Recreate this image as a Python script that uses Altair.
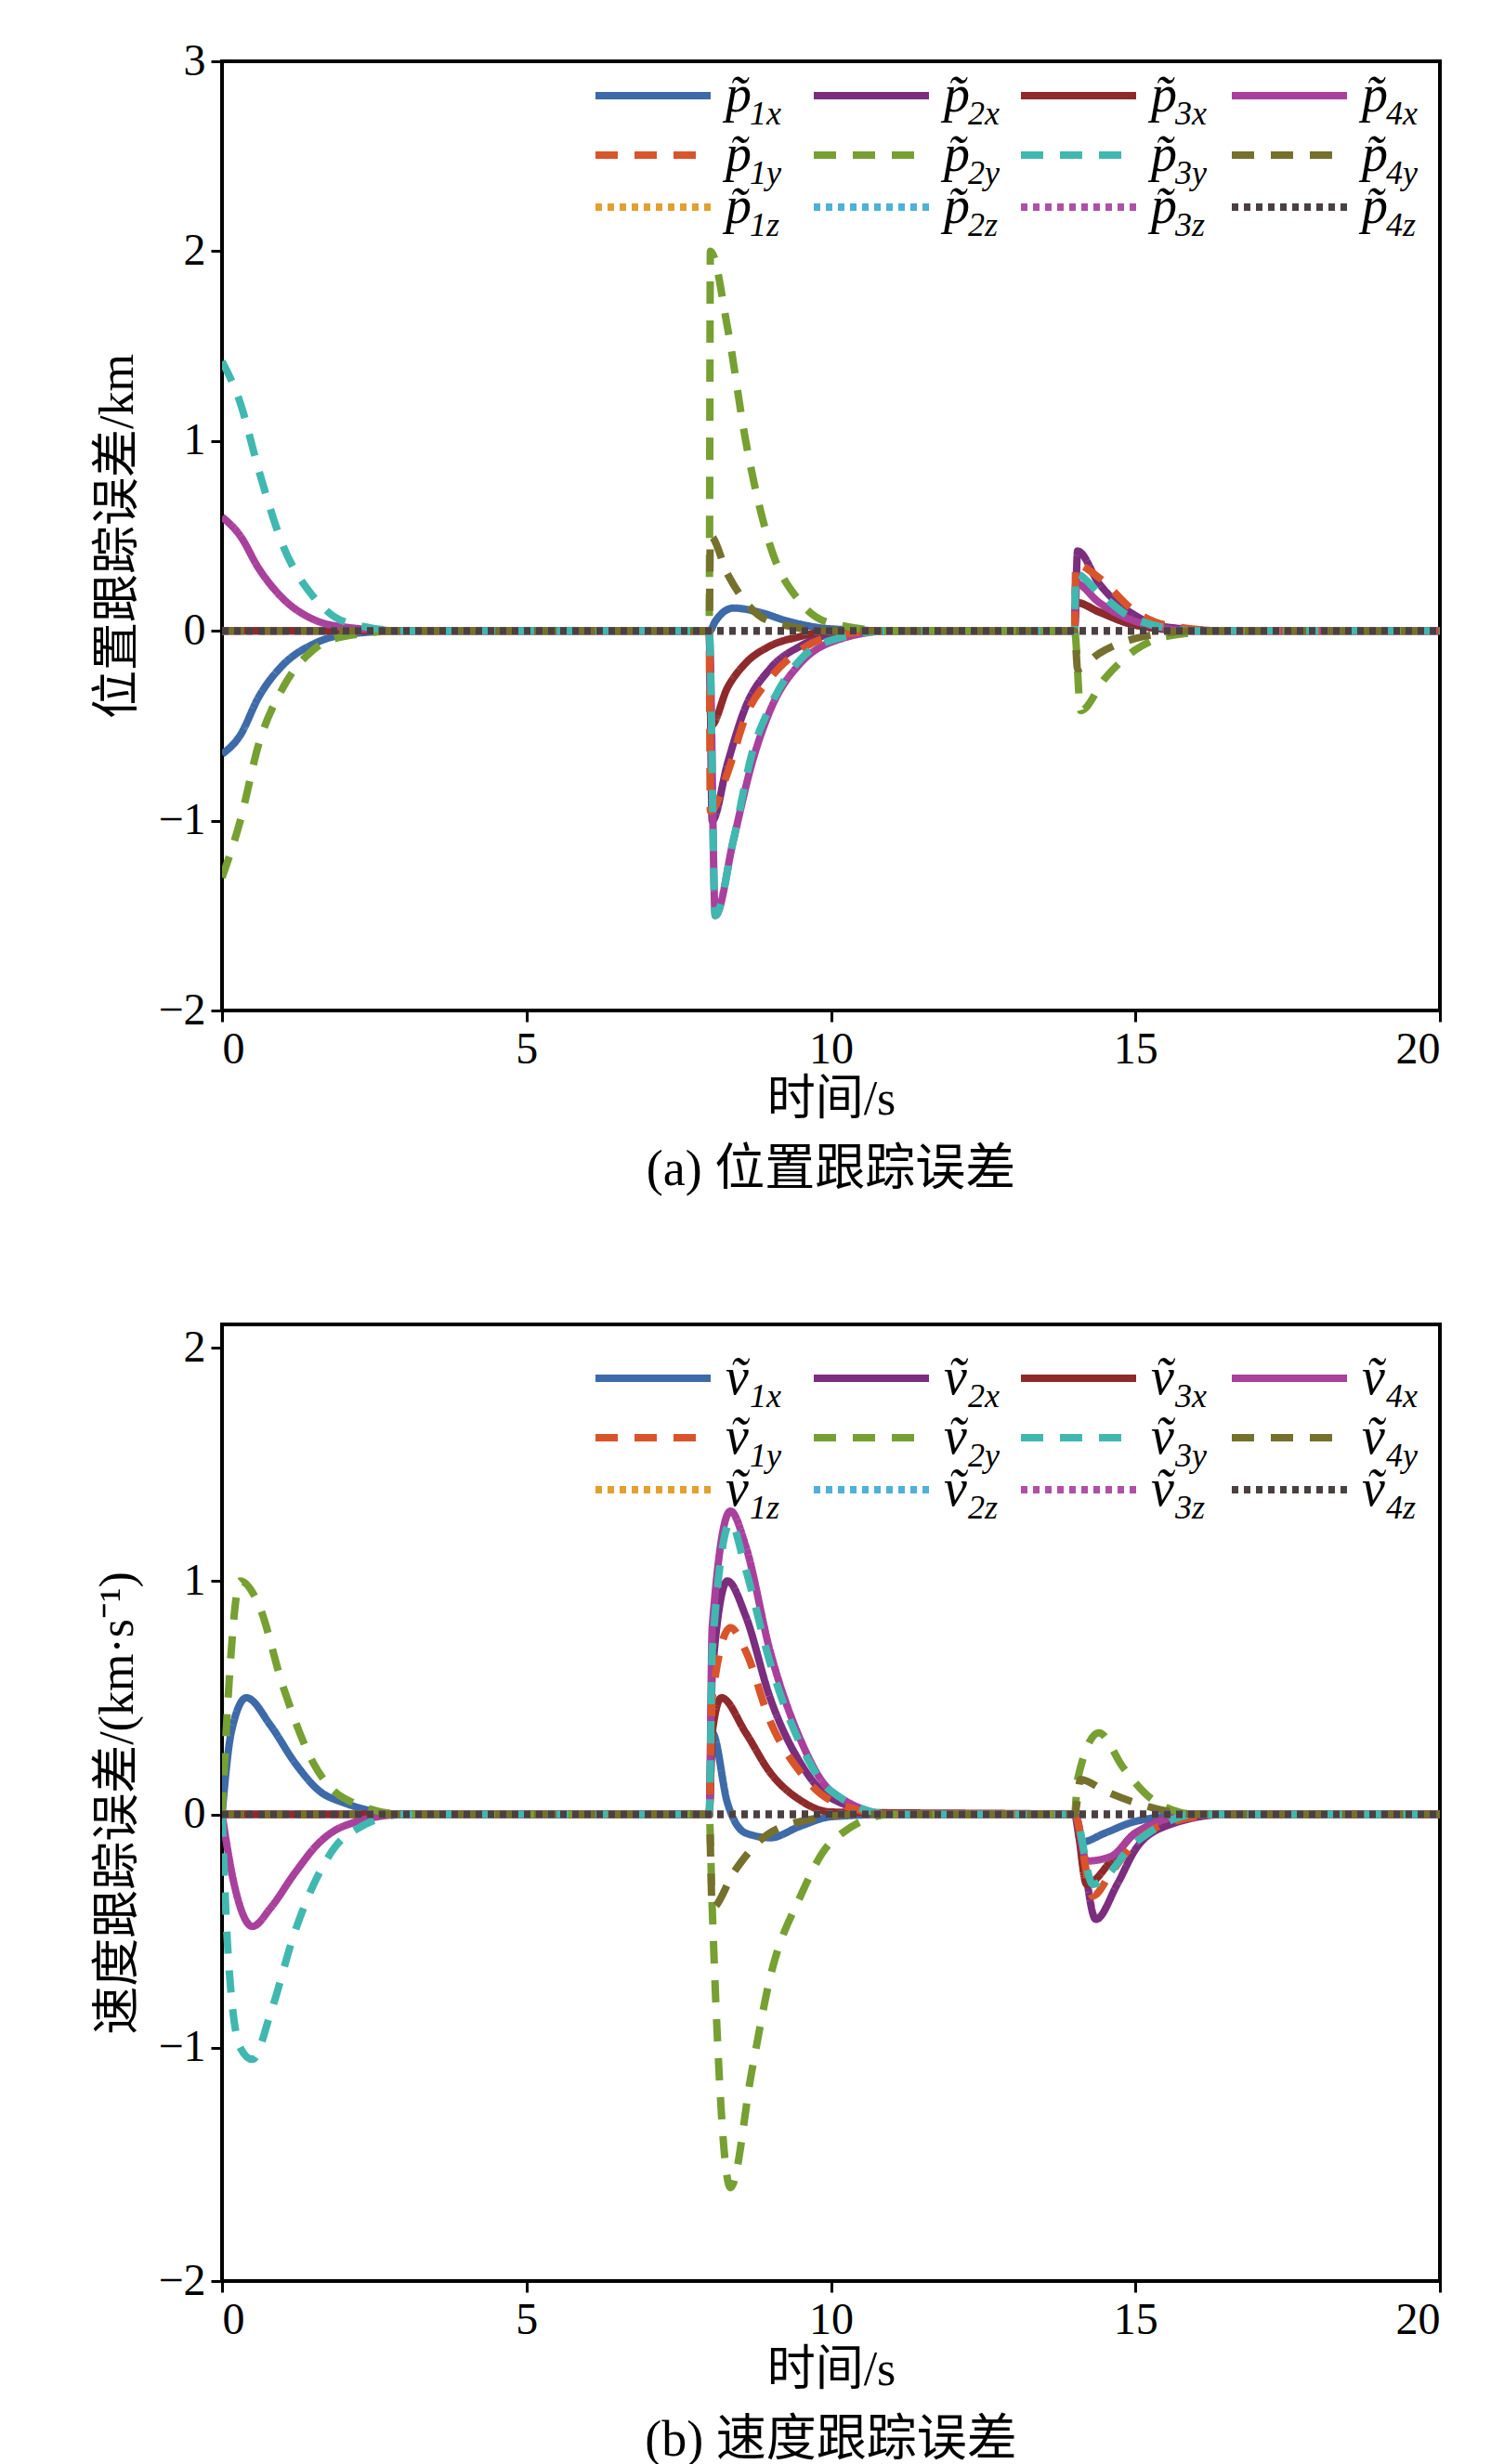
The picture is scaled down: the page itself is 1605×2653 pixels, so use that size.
import pandas as pd
import altair as alt

FONT = "Liberation Serif, Noto Sans CJK SC"

colors = {
    "1x": "#3d6aa8", "2x": "#7b2d7e", "3x": "#8f2a2a", "4x": "#a8409c",
    "1y": "#d9542a", "2y": "#76a032", "3y": "#40b8b0", "4y": "#75702c",
    "1z": "#e3a030", "2z": "#4fb0d8", "3z": "#b04fa8", "4z": "#4a4040",
}
dashes = {"x": [1, 0], "y": [24, 18], "z": [7, 6]}

# position tracking error (km): (times, values)
p_data = {
    "1x": ([0, 0.3, 0.6, 1, 1.5, 2, 3, 8, 8.01, 8.1, 8.4, 8.8, 9.3, 10, 11, 14, 14.02, 14.4, 15, 16, 20],
           [-0.65, -0.55, -0.35, -0.18, -0.07, -0.02, 0, 0, 0, 0.05, 0.12, 0.1, 0.05, 0.01, 0, 0, 0.15, 0.1, 0.03, 0, 0]),
    "1y": ([0, 8, 8.02, 8.3, 8.6, 9, 9.5, 10, 11, 14, 14.02, 14.4, 15, 15.5, 16.5, 20],
           [0, 0, -0.95, -0.75, -0.45, -0.25, -0.1, -0.03, 0, 0, 0.35, 0.28, 0.1, 0.03, 0, 0]),
    "1z": ([0, 20], [0, 0]),
    "2x": ([0, 8, 8.05, 8.3, 8.6, 9, 9.5, 10, 11, 14, 14.05, 14.4, 15, 15.5, 16.5, 20],
           [0, 0, -1.0, -0.7, -0.4, -0.2, -0.08, -0.02, 0, 0, 0.42, 0.25, 0.08, 0.02, 0, 0]),
    "2y": ([0, 0.3, 0.6, 1, 1.5, 2, 3, 8, 8.02, 8.3, 8.6, 9, 9.5, 10, 11, 14, 14.1, 14.5, 15, 15.5, 16.5, 20],
           [-1.3, -1.0, -0.6, -0.3, -0.1, -0.03, 0, 0, 2.0, 1.6, 1.0, 0.45, 0.15, 0.04, 0, 0, -0.42, -0.25, -0.1, -0.03, 0, 0]),
    "2z": ([0, 20], [0, 0]),
    "3x": ([0, 8, 8.03, 8.3, 8.6, 9, 9.5, 10, 14, 14.02, 14.4, 15, 16, 20],
           [0, 0, -0.5, -0.3, -0.17, -0.08, -0.03, 0, 0, 0.15, 0.1, 0.03, 0, 0]),
    "3y": ([0, 0.3, 0.6, 1, 1.5, 2, 3, 8, 8.1, 8.4, 8.7, 9, 9.5, 10, 11, 14, 14.02, 14.4, 15, 16, 20],
           [1.42, 1.2, 0.85, 0.45, 0.18, 0.05, 0, 0, -1.5, -1.1, -0.65, -0.4, -0.15, -0.05, 0, 0, 0.3, 0.2, 0.06, 0, 0]),
    "3z": ([0, 20], [0, 0]),
    "4x": ([0, 0.3, 0.6, 1, 1.5, 2, 3, 8, 8.1, 8.4, 8.7, 9, 9.5, 10, 11, 14, 14.02, 14.4, 15, 16, 20],
           [0.6, 0.5, 0.33, 0.17, 0.06, 0.02, 0, 0, -1.5, -1.1, -0.7, -0.42, -0.17, -0.06, 0, 0, 0.25, 0.15, 0.05, 0, 0]),
    "4y": ([0, 8, 8.02, 8.3, 8.6, 9, 10, 14, 14.05, 14.4, 15, 16, 20],
           [0, 0, 0.5, 0.3, 0.15, 0.05, 0, 0, -0.2, -0.12, -0.04, 0, 0]),
    "4z": ([0, 20], [0, 0]),
}

# velocity tracking error (km/s)
v_data = {
    "1x": ([0, 0.15, 0.4, 0.8, 1.2, 1.6, 2, 3, 8, 8.05, 8.3, 8.6, 9, 9.5, 10, 11, 14, 14.1, 14.5, 15, 16, 20],
           [0, 0.35, 0.5, 0.38, 0.22, 0.1, 0.05, 0, 0, 0.35, 0.05, -0.08, -0.1, -0.05, -0.01, 0, 0, -0.12, -0.08, -0.03, 0, 0]),
    "1y": ([0, 8, 8.05, 8.35, 8.6, 9, 9.5, 10, 11, 14, 14.3, 14.6, 15, 15.5, 16.5, 20],
           [0, 0, 0.5, 0.8, 0.7, 0.4, 0.18, 0.06, 0, 0, -0.35, -0.25, -0.12, -0.04, 0, 0]),
    "1z": ([0, 20], [0, 0]),
    "2x": ([0, 8, 8.05, 8.3, 8.6, 9, 9.5, 10, 11, 14, 14.35, 14.7, 15, 15.5, 16.5, 20],
           [0, 0, 0.6, 1.0, 0.85, 0.5, 0.22, 0.07, 0, 0, -0.45, -0.3, -0.15, -0.05, 0, 0]),
    "2y": ([0, 0.1, 0.3, 0.6, 1, 1.5, 2, 3, 8, 8.05, 8.35, 8.7, 9, 9.5, 10, 11, 14, 14.05, 14.4, 14.8, 15.3, 16, 20],
           [0, 0.5, 1.0, 0.9, 0.55, 0.22, 0.07, 0, 0, -0.4, -1.6, -1.1, -0.7, -0.35, -0.12, 0, 0, 0.15, 0.35, 0.2, 0.06, 0, 0]),
    "2z": ([0, 20], [0, 0]),
    "3x": ([0, 8, 8.05, 8.2, 8.6, 9, 9.5, 10, 14, 14.2, 14.6, 15, 16, 20],
           [0, 0, 0.35, 0.5, 0.35, 0.18, 0.06, 0.01, 0, -0.3, -0.2, -0.08, 0, 0]),
    "3y": ([0, 0.1, 0.3, 0.5, 0.8, 1.2, 1.6, 2, 3, 8, 8.05, 8.35, 8.6, 9, 9.5, 10, 11, 14, 14.3, 15, 16, 20],
           [0, -0.6, -1.0, -1.05, -0.85, -0.5, -0.25, -0.1, 0, 0, 0.7, 1.25, 1.05, 0.65, 0.3, 0.1, 0, 0, -0.3, -0.12, 0, 0]),
    "3z": ([0, 20], [0, 0]),
    "4x": ([0, 0.2, 0.5, 0.8, 1.2, 1.6, 2, 3, 8, 8.05, 8.35, 8.6, 9, 9.5, 10, 11, 14, 14.2, 14.6, 15, 16, 20],
           [0, -0.3, -0.48, -0.4, -0.25, -0.12, -0.05, 0, 0, 0.8, 1.3, 1.15, 0.7, 0.32, 0.1, 0, 0, -0.2, -0.18, -0.08, 0, 0]),
    "4y": ([0, 8, 8.05, 8.4, 8.8, 9.5, 10.5, 14, 14.1, 14.5, 15, 16, 20],
           [0, 0, -0.4, -0.25, -0.12, -0.03, 0, 0, 0.15, 0.1, 0.05, 0, 0]),
    "4z": ([0, 20], [0, 0]),
}

order = ["1x", "2x", "3x", "4x", "1y", "2y", "3y", "4y", "1z", "2z", "3z", "4z"]


def panel(data, sym, ydomain, yvals, ytitle, caption, height, leg_top):
    rows = []
    for k in order:
        t, v = data[k]
        for i, (a, b) in enumerate(zip(t, v)):
            rows.append({"name": k, "t": a, "v": b, "i": i})
    df = pd.DataFrame(rows)
    col_scale = alt.Scale(domain=order, range=[colors[k] for k in order])
    dash_scale = alt.Scale(domain=order, range=[dashes[k[1]] for k in order])

    lines = alt.Chart(df).mark_line(strokeWidth=8, clip=True, interpolate="monotone").encode(
        x=alt.X("t:Q", scale=alt.Scale(domain=[0, 20], nice=False),
                axis=alt.Axis(values=[0, 5, 10, 15, 20], title="时间/s", grid=False)),
        y=alt.Y("v:Q", scale=alt.Scale(domain=ydomain, nice=False),
                axis=alt.Axis(values=yvals, title=ytitle, grid=False,
                              labelExpr="replace(datum.label, '-', '−')")),
        color=alt.Color("name:N", scale=col_scale, legend=None),
        strokeDash=alt.StrokeDash("name:N", scale=dash_scale, legend=None),
        detail="name:N",
        order="i:Q",
    )

    # hand-made legend: 4 columns x 3 rows
    col_x = [402, 637, 860, 1087]
    row_y = [leg_top, leg_top + 64, leg_top + 120]
    leg = []
    for k in order:
        c = int(k[0]) - 1
        r = "xyz".index(k[1])
        leg.append({"name": k, "lx": col_x[c], "lx2": col_x[c] + 124,
                    "ly": row_y[r], "tx": col_x[c] + 140, "sx": col_x[c] + 166,
                    "base": sym, "sub": k})
    ldf = pd.DataFrame(leg)
    rule = alt.Chart(ldf).mark_rule(strokeWidth=8).encode(
        x=alt.X("lx:Q", scale=None), x2="lx2:Q", y=alt.Y("ly:Q", scale=None),
        color=alt.Color("name:N", scale=col_scale, legend=None),
        strokeDash=alt.StrokeDash("name:N", scale=dash_scale, legend=None),
    )
    base = alt.Chart(ldf).mark_text(font="Liberation Serif", fontSize=56, fontStyle="italic",
                                    align="left", baseline="middle").encode(
        x=alt.X("tx:Q", scale=None), y=alt.Y("ly:Q", scale=None), text="base:N")
    sub = alt.Chart(ldf).mark_text(font="Liberation Serif", fontSize=36, fontStyle="italic",
                                   align="left", baseline="middle", dy=20).encode(
        x=alt.X("sx:Q", scale=None), y=alt.Y("ly:Q", scale=None), text="sub:N")

    return alt.layer(lines, rule, base, sub).properties(
        width=1311, height=height,
        title=alt.TitleParams(caption, orient="bottom", font=FONT, fontSize=54,
                              fontWeight="normal", offset=24),
    )


pa = panel(p_data, "p\u0303", [-2, 3], [-2, -1, 0, 1, 2, 3], "位置跟踪误差/km",
           "(a) 位置跟踪误差", 1022, 37)
pb = panel(v_data, "v\u0303", [-2, 2.1], [-2, -1, 0, 1, 2], "速度跟踪误差/(km·s⁻¹)",
           "(b) 速度跟踪误差", 1030, 58)

chart = alt.vconcat(pa, pb, spacing=135).properties(
    padding={"left": 90, "top": 32, "right": 20, "bottom": 10}
).configure_view(
    stroke="black", strokeWidth=4
).configure_axis(
    labelFont="Liberation Serif", labelFontSize=48, labelColor="black",
    titleFont=FONT, titleFontSize=52, titleFontWeight="normal", titleColor="black",
    domain=False, tickColor="black", tickWidth=3, tickSize=12, labelPadding=6,
).configure_axisY(titlePadding=16)

chart.save("out.html", embed_options={"renderer": "svg", "actions": False})
